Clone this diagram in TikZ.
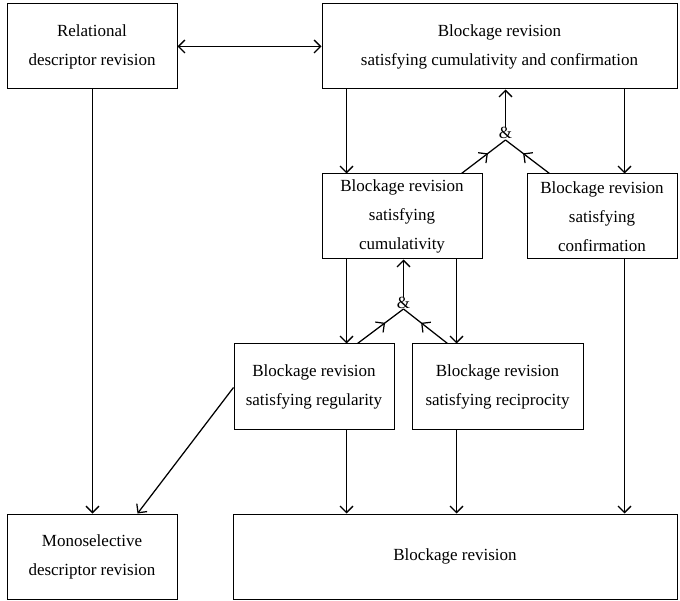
\documentclass[tikz,border=0pt]{standalone}
\usepackage{fontspec}
\setmainfont{Liberation Serif}
\usetikzlibrary{arrows.meta,decorations.markings}

\begin{document}
\begin{tikzpicture}[x=1pt,y=-1pt,>={Straight Barb[length=6.5pt,width=13pt]},line width=1.25pt,
    box/.style={draw,line width=1pt,align=center,inner sep=0pt,font=\fontsize{17}{29}\selectfont},
    andnode/.style={inner sep=0pt,font=\fontsize{17}{20}\selectfont},
    midarr/.style={postaction={decorate},
      decoration={markings,mark=at position 0.6 with {\arrow{>}}}}]
      \useasboundingbox (0,0) rectangle (680,601);
      \node[box,minimum width=170,minimum height=85] (rel)   at (92,46.5)    {Relational\\descriptor revision};
      \node[box,minimum width=355,minimum height=85] (bcc)   at (499.5,46.5) {Blockage revision\\satisfying cumulativity and confirmation};
      \node[box,minimum width=160,minimum height=85] (bcum)  at (402,216.5)  {Blockage revision\\satisfying\\cumulativity};
      \node[box,minimum width=150,minimum height=85] (bconf) at (602,216.5)  {Blockage revision\\satisfying\\confirmation};
      \node[box,minimum width=160,minimum height=85] (breg)  at (314,386.5)  {Blockage revision\\satisfying regularity};
      \node[box,minimum width=171,minimum height=85] (brec)  at (497.5,386.5) {Blockage revision\\satisfying reciprocity};
      \node[box,minimum width=170,minimum height=85] (mono)  at (92,556.5)   {Monoselective\\descriptor revision};
      \node[box,minimum width=444,minimum height=85] (brev)  at (455,556.5)  {Blockage revision};

      \node[andnode] (and1) at (505.5,133) {\&};
      \node[andnode] (and2) at (403.5,303) {\&};
      \coordinate (ap1) at (505.5,140);
      \coordinate (ap2) at (403.5,309);

      \path[<->] (rel) edge (bcc);
      \path[->] ([xshift=0.5pt]rel.south) edge ([xshift=0.5pt]mono.north)
                ([xshift=25pt]bcum.north west |- bcc.south)  edge ([xshift=25pt]bcum.north west)
                ([xshift=98pt]bconf.north west |- bcc.south) edge ([xshift=98pt]bconf.north west)
                (and1.north) edge (and1.north |- bcc.south)
                ([xshift=113pt]breg.north west |- bcum.south) edge ([xshift=113pt]breg.north west)
                ([xshift=135pt]bcum.south west) edge ([xshift=135pt]bcum.south west |- brec.north)
                (and2.north) edge (and2.north |- bcum.south)
                ([xshift=113pt]breg.south west) edge ([xshift=113pt]breg.south west |- brev.north)
                ([xshift=45pt]brec.south west) edge ([xshift=45pt]brec.south west |- brev.north)
                ([xshift=98pt]bconf.south west) edge ([xshift=98pt]bconf.south west |- brev.north)
                ([yshift=-1pt]breg.west) edge ([xshift=131pt]mono.north west);
      \draw[midarr] ([xshift=140pt]bcum.north west) -- (ap1);
      \draw[midarr] ([xshift=23pt]bconf.north west) -- (ap1);
      \draw[midarr] ([xshift=124pt]breg.north west) -- (ap2);
      \draw[midarr] ([xshift=36pt]brec.north west) -- (ap2);
\end{tikzpicture}
\end{document}
